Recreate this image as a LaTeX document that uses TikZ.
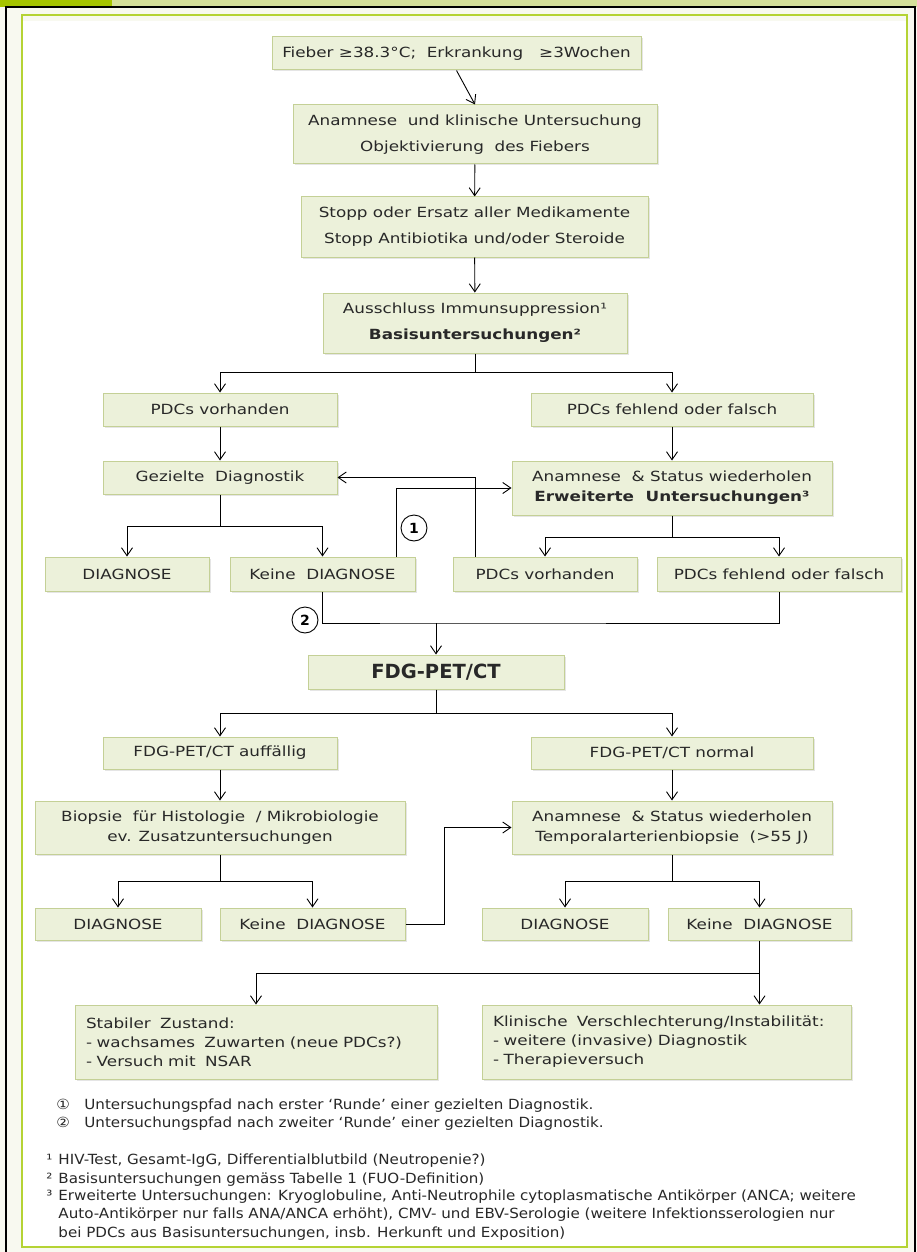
\documentclass[tikz,border=0pt]{standalone}
\usepackage{fontspec}
\setmainfont{DejaVu Sans}
\newfontfamily\boxfont{DejaVu Sans}[FakeStretch=1.2]
\newfontfamily\notefont{DejaVu Sans}[FakeStretch=1.08]
\usetikzlibrary{arrows.meta}
\usetikzlibrary{shadows}

\definecolor{barDark}{RGB}{165,196,0}
\definecolor{barLight}{RGB}{213,224,154}
\definecolor{frameBg}{RGB}{248,249,240}
\definecolor{innerLine}{RGB}{181,211,52}
\definecolor{boxFill}{RGB}{236,241,218}
\definecolor{boxLine}{RGB}{196,208,150}
\definecolor{txt}{RGB}{40,40,40}

\tikzset{
  box/.style={draw=boxLine, fill=boxFill, line width=1pt, align=center, inner sep=2pt,
    font=\boxfont\fontsize{14}{20}\selectfont, text=txt,
    drop shadow={opacity=0.2, shadow xshift=1.5pt, shadow yshift=-1.5pt}},
  tall/.style={font=\boxfont\fontsize{14}{26}\selectfont},
  listbox/.style={align=left, inner xsep=11pt, font=\boxfont\fontsize{14}{19}\selectfont},
  arr/.style={-{Straight Barb[length=8pt,width=11pt]}},
  num/.style={circle, draw, fill=white, line width=0.9pt, inner sep=0pt, minimum size=26pt,
    font=\bfseries\fontsize{14}{14}\selectfont},
  note/.style={anchor=west, align=left, inner sep=0pt, text=txt, font=\notefont\fontsize{14}{18.7}\selectfont},
}

\begin{document}
\begin{tikzpicture}[x=1pt, y=-1pt, line width=0.9pt]
\useasboundingbox (0,0) rectangle (917,1252);

% frame
\fill[frameBg] (0,0) rectangle (917,1252);
\fill[barLight] (0,0) rectangle (917,7);
\fill[barDark] (0,0) rectangle (112,7);
\draw[black, line width=1.2pt] (6,1252) -- (6,7) -- (915,7) -- (915,1252);
\draw[innerLine, fill=white, line width=1.5pt] (22,15) rectangle (907,1247);
\fill[frameBg] (23,16) rectangle (906,21);

% boxes
\node[box, minimum width=369pt, minimum height=33pt] (fieber) at (456.5,53.5) {Fieber ≥38.3°C;\ \ Erkrankung\ \ \ ≥3Wochen};
\node[box, tall, minimum width=364pt, minimum height=59pt] (anam1) at (475,134.5) {Anamnese\ \ und klinische Untersuchung\\Objektivierung\ \ des Fiebers};
\node[box, tall, minimum width=347pt, minimum height=60pt] (stopp) at (474.5,227) {Stopp oder Ersatz aller Medikamente\\Stopp Antibiotika und/oder Steroide};
\node[box, tall, minimum width=304pt, minimum height=60pt] (basis) at (475,323) {Ausschluss Immunsuppression¹\\\textbf{Basisuntersuchungen²}};

\node[box, minimum width=234pt, minimum height=33pt] (pdcL) at (220,409.5) {PDCs vorhanden};
\node[box, minimum width=282pt, minimum height=33pt] (pdcR) at (672,409.5) {PDCs fehlend oder falsch};
\node[box, minimum width=234pt, minimum height=33pt] (gezielt) at (220,477.5) {Gezielte\ \ Diagnostik};
\node[box, minimum width=320pt, minimum height=54pt] (anam2) at (672,488) {Anamnese\ \ \& Status wiederholen\\\textbf{Erweiterte\ \ Untersuchungen³}};

\node[box, minimum width=164pt, minimum height=34pt] (diagA) at (127,574) {DIAGNOSE};
\node[box, minimum width=185pt, minimum height=34pt] (keineA) at (322.5,574) {Keine\ \ DIAGNOSE};
\node[box, minimum width=184pt, minimum height=34pt] (pdcV2) at (545,574) {PDCs vorhanden};
\node[box, minimum width=244pt, minimum height=34pt] (pdcF2) at (779,574) {PDCs fehlend oder falsch};

\node[box, minimum width=256pt, minimum height=34pt, font=\bfseries\fontsize{19.5}{20}\selectfont] (fdg) at (436,672) {FDG-PET/CT};

\node[box, minimum width=234pt, minimum height=32pt] (petA) at (220,753) {FDG-PET/CT auffällig};
\node[box, minimum width=282pt, minimum height=32pt] (petN) at (672,753) {FDG-PET/CT normal};
\node[box, minimum width=370pt, minimum height=53pt] (biopsie) at (220,827.5) {Biopsie\ \ für Histologie\ \ / Mikrobiologie\\ev. Zusatzuntersuchungen};
\node[box, minimum width=320pt, minimum height=53pt] (anam3) at (672,827.5) {Anamnese\ \ \& Status wiederholen\\Temporalarterienbiopsie\ \ (>55 J)};

\node[box, minimum width=166pt, minimum height=32pt] (diagB) at (118,924) {DIAGNOSE};
\node[box, minimum width=185pt, minimum height=32pt] (keineB) at (312.5,924) {Keine\ \ DIAGNOSE};
\node[box, minimum width=166pt, minimum height=32pt] (diagC) at (565,924) {DIAGNOSE};
\node[box, minimum width=183pt, minimum height=32pt] (keineC) at (759.5,924) {Keine\ \ DIAGNOSE};

\node[box, listbox, text width=340pt, minimum height=74pt] (stabil) at (256,1042) {Stabiler\ \ Zustand:\\- wachsames\ \ Zuwarten (neue PDCs?)\\- Versuch mit\ \ NSAR};
\node[box, listbox, text width=347pt, minimum height=74pt] (klinisch) at (666.5,1042) {Klinische\ \ Verschlechterung/Instabilität:\\- weitere (invasive) Diagnostik\\- Therapieversuch};

% connectors
\draw[arr] (fieber.south) -- (anam1.north);
\draw[arr] (anam1) -- (stopp);
\draw[arr] (stopp) -- (basis);
\draw (basis.south) -- (475,372) coordinate (j1);
\draw[arr] (j1) -| (pdcL.north);
\draw[arr] (j1) -| (pdcR.north);
\draw[arr] (pdcL) -- (gezielt);
\draw[arr] (pdcR.south) -- (pdcR.south |- anam2.north);
\draw (gezielt.south) -- (220,526) coordinate (j2);
\draw[arr] (j2) -| (diagA.north);
\draw[arr] (j2) -| (keineA.north);
\draw (anam2.south) -- (672,537) coordinate (j3);
\draw[arr] (j3) -| (pdcV2.north);
\draw[arr] (j3) -| (pdcF2.north);
\draw[arr] ([xshift=-19pt]keineA.north east) |- (anam2.west);
\draw[arr] ([xshift=23pt]pdcV2.north west) |- (gezielt.east);
\coordinate (j4) at (436,623);
\draw (keineA.south) |- (j4) -| (pdcF2.south);
\draw[arr] (j4) -- (fdg.north);
\node[num] (c1) at (414,528) {1};
\node[num] (c2) at (305,620) {2};

\draw (fdg.south) -- (436,713) coordinate (j5);
\draw[arr] (j5) -| (petA.north);
\draw[arr] (j5) -| (petN.north);
\draw[arr] (petA) -- (biopsie);
\draw[arr] (petN) -- (anam3);
\draw (biopsie.south) -- (220,881) coordinate (j6);
\draw[arr] (j6) -| (diagB.north);
\draw[arr] (j6) -| (keineB.north);
\draw (anam3.south) -- (672,881) coordinate (j7);
\draw[arr] (j7) -| (diagC.north);
\draw[arr] (j7) -| (keineC.north);
\draw[arr] (keineB.east) -- (444,924) |- (anam3.west);
\draw (keineC.south) -- (759.5,973) coordinate (j8);
\draw[arr] (j8) -| (stabil.north);
\draw[arr] (j8) -- (j8 |- klinisch.north);

% notes
\node[note] (leg1) at (56,1106) {①\ \ \ Untersuchungspfad nach erster ‘Runde’ einer gezielten Diagnostik.};
\node[note] (leg2) at (56,1124) {②\ \ \ Untersuchungspfad nach zweiter ‘Runde’ einer gezielten Diagnostik.};
\node[note] (fn1) at (46,1161) {\makebox[12pt][l]{¹}HIV-Test, Gesamt-IgG, Differentialblutbild (Neutropenie?)};
\node[note] (fn2) at (46,1180) {\makebox[12pt][l]{²}Basisuntersuchungen gemäss Tabelle 1 (FUO-Definition)};
\node[note, anchor=north west] (fn3) at (46,1189) {\makebox[12pt][l]{³}Erweiterte Untersuchungen: Kryoglobuline, Anti-Neutrophile cytoplasmatische Antikörper (ANCA; weitere\\
\hspace*{12pt}Auto-Antikörper nur falls ANA/ANCA erhöht), CMV- und EBV-Serologie (weitere Infektionsserologien nur\\
\hspace*{12pt}bei PDCs aus Basisuntersuchungen, insb. Herkunft und Exposition)};
\end{tikzpicture}
\end{document}
